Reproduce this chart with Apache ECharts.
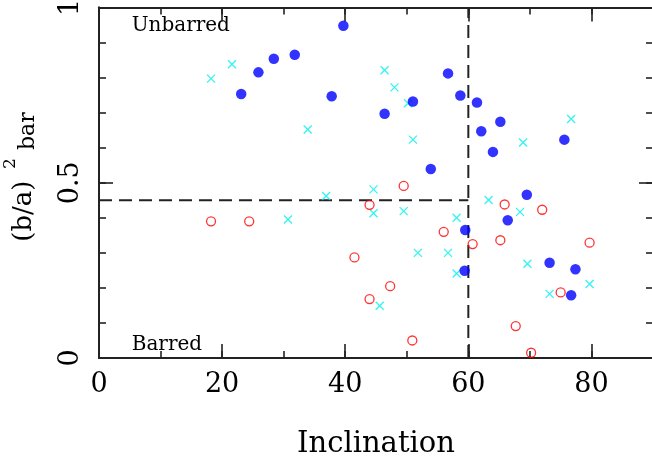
<!DOCTYPE html>
<html>
<head>
<meta charset="utf-8">
<script src="https://cdn.jsdelivr.net/npm/echarts@6/dist/echarts.min.js"></script>
<style>html,body{margin:0;padding:0;background:#fff;}#c{width:652px;height:459px;}</style>
</head>
<body>
<div id="c"></div>
<script>
// Unbarred (blue filled circles)
const blueIncl = [23.1,25.9,28.4,31.8,39.7,37.8,56.7,58.7,61.4,51.0,46.4,65.2,62.1,64.0,75.6,53.9,69.5,66.4,59.5,59.4,73.2,77.4,76.7];
const blueBA   = [0.753,0.815,0.854,0.865,0.948,0.747,0.812,0.749,0.729,0.732,0.697,0.674,0.647,0.588,0.623,0.539,0.466,0.393,0.365,0.249,0.272,0.253,0.179];
// Barred (red open circles)
const redIncl = [18.2,24.4,43.95,41.5,43.95,49.5,56.0,60.7,65.9,72.0,65.2,79.7,47.3,75.0,67.7,50.9,70.2];
const redBA   = [0.390,0.390,0.437,0.287,0.168,0.491,0.360,0.325,0.438,0.423,0.336,0.329,0.205,0.187,0.091,0.050,0.015];
// Cyan crosses
const cyanIncl = [18.2,21.6,33.9,36.9,44.6,46.4,48.0,50.2,51.0,68.9,76.7,63.3,30.7,44.6,49.5,58.1,68.4,51.8,56.7,58.1,69.6,45.6,73.2,79.7];
const cyanBA   = [0.797,0.838,0.652,0.462,0.481,0.821,0.772,0.727,0.623,0.615,0.682,0.451,0.395,0.413,0.419,0.400,0.417,0.300,0.300,0.241,0.269,0.149,0.183,0.211];
// Dividing lines
const hLineX = [0, 60], hLineY = [0.45, 0.45];
const vLineX = [60, 60], vLineY = [0, 1];
const xTickLabels = ['0','20','40','60','80'];
const yTickLabels = ['0','0.5','1'];

const zip = (a, b) => a.map((v, i) => [v, b[i]]);
const FONT = 'DejaVu Serif';
const INK = '#222';

const chart = echarts.init(document.getElementById('c'), null, {renderer: 'canvas'});

function xAx(grid, pos, interval, len, labels, name) {
  return {
    type: 'value', gridIndex: grid, position: pos, min: 0, max: 90, interval: interval,
    axisLine: {show: true, onZero: false, lineStyle: {color: INK, width: 2}},
    axisTick: {show: true, inside: true, length: len, lineStyle: {color: INK, width: 1.6}},
    axisLabel: labels ? {show: true, margin: 13, fontFamily: FONT, fontSize: 27, color: '#000',
      showMaxLabel: false,
      formatter: v => xTickLabels.indexOf(String(v)) >= 0 ? String(v) : ''} : {show: false},
    splitLine: {show: false},
    name: name || '', nameLocation: 'middle', nameGap: 72,
    nameTextStyle: {fontFamily: FONT, fontSize: 29, color: '#000', verticalAlign: 'top'}
  };
}
function yAx(grid, pos, interval, len, labels) {
  return {
    type: 'value', gridIndex: grid, position: pos, min: 0, max: 1, interval: interval,
    axisLine: {show: true, onZero: false, lineStyle: {color: INK, width: 2}},
    axisTick: {show: true, inside: true, length: len, lineStyle: {color: INK, width: 1.6}},
    axisLabel: labels ? {show: true, rotate: 90, margin: 15, fontFamily: FONT, fontSize: 27, color: '#000',
      formatter: v => yTickLabels.indexOf(String(v)) >= 0 ? String(v) : ''} : {show: false},
    splitLine: {show: false}
  };
}

const gridRect = {left: 99, right: -1, top: 7.5, bottom: 101, containLabel: false, outerBoundsMode: 'none'};

chart.setOption({
  animation: false,
  backgroundColor: '#fff',
  grid: [Object.assign({}, gridRect), Object.assign({}, gridRect)],
  xAxis: [
    xAx(0, 'bottom', 10, 7, false, 'Inclination'),
    xAx(0, 'top', 10, 7, false),
    xAx(1, 'bottom', 20, 14, true),
    xAx(1, 'top', 20, 14, false)
  ],
  yAxis: [
    yAx(0, 'left', 0.1, 7, false),
    yAx(0, 'right', 0.1, 7, false),
    yAx(1, 'left', 0.5, 14, true),
    yAx(1, 'right', 0.5, 14, false)
  ],
  series: [
    {type: 'line', xAxisIndex: 0, yAxisIndex: 0, data: zip(hLineX, hLineY), symbol: 'none',
      lineStyle: {color: INK, width: 2, type: [13, 7]}, z: 1},
    {type: 'line', xAxisIndex: 0, yAxisIndex: 0, data: zip(vLineX, vLineY), symbol: 'none',
      lineStyle: {color: INK, width: 2, type: [13, 7]}, z: 1},
    {type: 'scatter', xAxisIndex: 0, yAxisIndex: 0, data: zip(cyanIncl, cyanBA),
      symbol: 'path://M0,0L10,10M10,0L0,10', symbolSize: 8,
      itemStyle: {color: 'rgba(0,0,0,0)', borderColor: '#00f0f0', borderWidth: 1.3}, z: 2},
    {type: 'scatter', xAxisIndex: 0, yAxisIndex: 0, data: zip(redIncl, redBA),
      symbol: 'circle', symbolSize: 9,
      itemStyle: {color: 'rgba(0,0,0,0)', borderColor: '#ff0000', borderWidth: 1.3}, z: 3},
    {type: 'scatter', xAxisIndex: 0, yAxisIndex: 0, data: zip(blueIncl, blueBA),
      symbol: 'circle', symbolSize: 10.5,
      itemStyle: {color: '#0000ff'}, z: 4}
  ],
  graphic: [
    {type: 'text', left: 131.7, top: 16, style: {text: 'Unbarred', font: '20px "DejaVu Serif"', fill: '#000'}},
    {type: 'text', left: 131.7, top: 334.5, style: {text: 'Barred', font: '20px "DejaVu Serif"', fill: '#000'}},
    {type: 'text', x: 24.5, y: 241.7, rotation: Math.PI / 2,
      style: {text: '(b/a)', font: '26px "DejaVu Serif"', fill: '#000', align: 'left', verticalAlign: 'middle'}},
    {type: 'text', x: 11, y: 169, rotation: Math.PI / 2,
      style: {text: '2', font: '17px "DejaVu Serif"', fill: '#000', align: 'left', verticalAlign: 'middle'}},
    {type: 'text', x: 28.5, y: 150, rotation: Math.PI / 2,
      style: {text: 'bar', font: '22px "DejaVu Serif"', fill: '#000', align: 'left', verticalAlign: 'middle'}}
  ]
});
</script>
</body>
</html>
